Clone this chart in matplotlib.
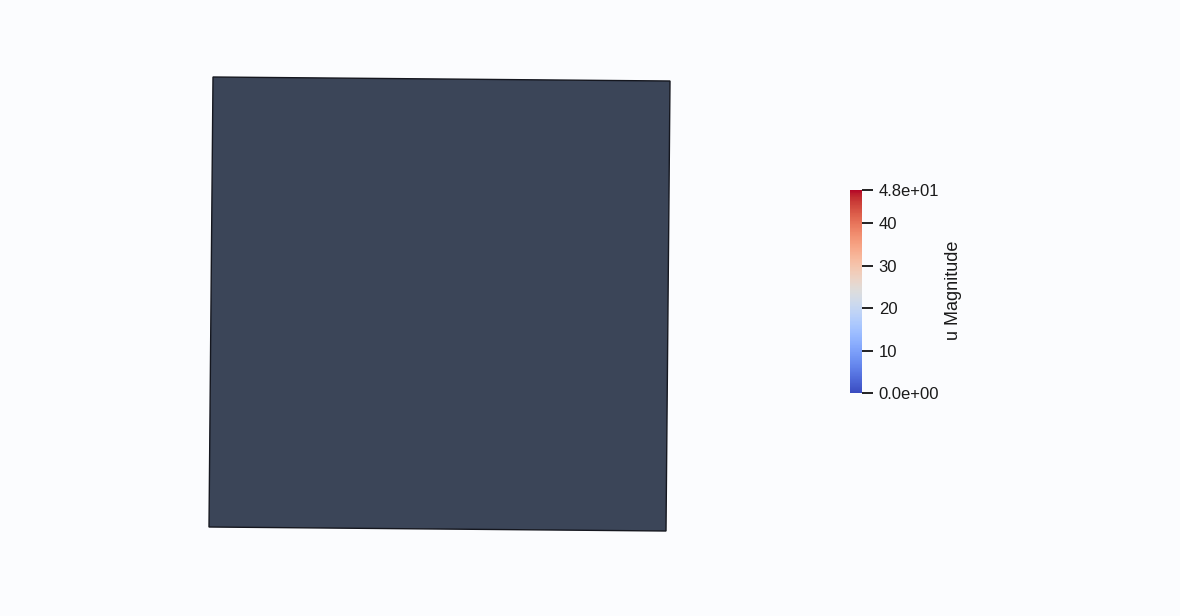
import matplotlib
matplotlib.use("Agg")
import matplotlib.pyplot as plt
import numpy as np
from matplotlib.patches import Polygon
from matplotlib.colors import Normalize
from matplotlib.cm import ScalarMappable

# Data
quad_x = [213, 670, 666, 209]
quad_y = [77, 81, 531, 527]
u_min = 0.0
u_max = 48.0
cbar_ticks = [0, 10, 20, 30, 40, 48]
cbar_labels = ["0.0e+00", "10", "20", "30", "40", "4.8e+01"]
cbar_title = "u Magnitude"

W, H = 1180, 616
bg = "#fbfcfe"
fig = plt.figure(figsize=(W / 100, H / 100), dpi=100, facecolor=bg)
ax = fig.add_axes([0, 0, 1, 1])
ax.set_xlim(0, W)
ax.set_ylim(H, 0)
ax.axis("off")
ax.set_facecolor(bg)

poly = Polygon(np.column_stack([quad_x, quad_y]), closed=True,
               facecolor="#3b4558", edgecolor="#15171f", linewidth=1.0)
ax.add_patch(poly)

# Colorbar
top, bot = 189.5, 393.0
left, right = 850, 862
cax = fig.add_axes([left / W, (H - bot) / H, (right - left) / W, (bot - top) / H])
sm = ScalarMappable(norm=Normalize(u_min, u_max), cmap="coolwarm")
cb = fig.colorbar(sm, cax=cax, orientation="vertical")
cb.outline.set_visible(False)
cb.set_ticks(cbar_ticks)
cb.set_ticklabels(cbar_labels)
cax.tick_params(axis="y", length=8, width=1.3, color="#111111", pad=4,
                labelsize=12, labelcolor="#1a1a1a", direction="out")
for lab in cax.get_yticklabels():
    lab.set_family("Liberation Sans")
fig.text(953 / W, 1 - 290 / H, cbar_title, rotation=90, ha="center", va="center",
         fontsize=13, color="#1a1a1a", family="Liberation Sans")

fig.savefig("out.png", dpi=100, facecolor=bg)
